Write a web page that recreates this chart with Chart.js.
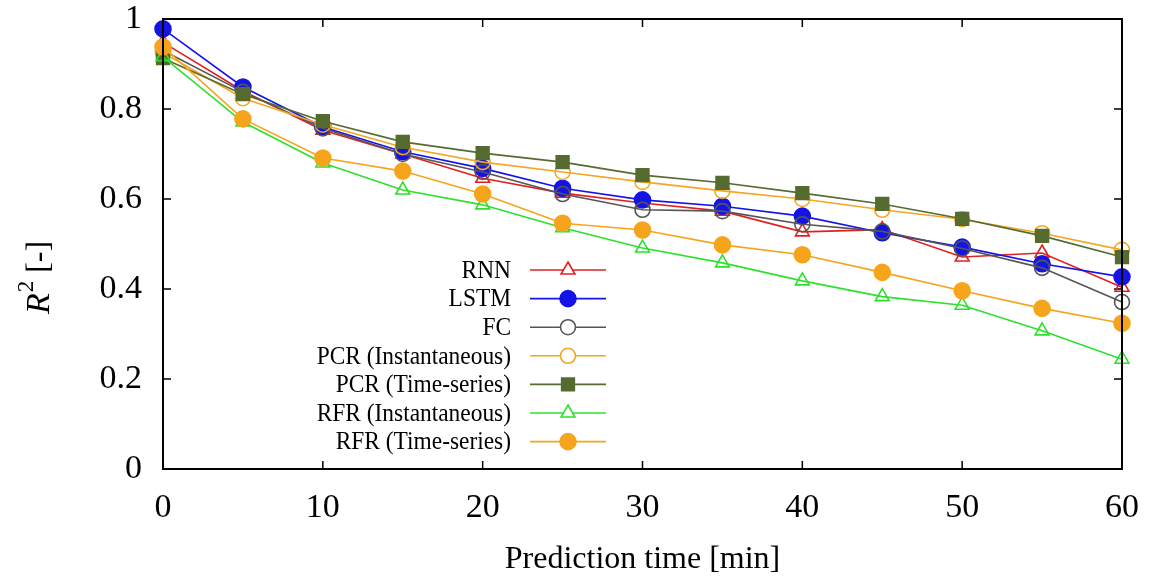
<!DOCTYPE html>
<html>
<head>
<meta charset="utf-8">
<script src="https://cdn.jsdelivr.net/npm/chart.js@4.4.1/dist/chart.umd.min.js"></script>
<style>
  html, body { margin: 0; padding: 0; background: #ffffff; }
  #wrap { width: 1155px; height: 583px; position: relative; }
</style>
</head>
<body>
<div id="wrap"><canvas id="c"></canvas></div>
<script>
// ---- data ----
const predictionTime = [0, 5, 10, 15, 20, 25, 30, 35, 40, 45, 50, 55, 60];
const rnn      = [0.948, 0.840, 0.753, 0.700, 0.646, 0.613, 0.591, 0.573, 0.527, 0.532, 0.471, 0.480, 0.404];
const lstm     = [0.978, 0.849, 0.760, 0.705, 0.668, 0.624, 0.598, 0.584, 0.562, 0.525, 0.493, 0.456, 0.427];
const fc       = [0.930, 0.838, 0.757, 0.700, 0.660, 0.611, 0.576, 0.573, 0.544, 0.528, 0.490, 0.447, 0.371];
const pcrInst  = [0.925, 0.824, 0.765, 0.715, 0.682, 0.660, 0.638, 0.618, 0.600, 0.576, 0.555, 0.524, 0.487];
const pcrTs    = [0.913, 0.833, 0.773, 0.727, 0.702, 0.682, 0.653, 0.636, 0.613, 0.589, 0.556, 0.518, 0.471];
const rfrInst  = [0.916, 0.771, 0.680, 0.620, 0.587, 0.536, 0.491, 0.458, 0.418, 0.383, 0.364, 0.307, 0.244];
const rfrTs    = [0.938, 0.778, 0.691, 0.662, 0.611, 0.546, 0.531, 0.498, 0.476, 0.437, 0.396, 0.357, 0.324];
const seriesNames = ['RNN', 'LSTM', 'FC', 'PCR (Instantaneous)', 'PCR (Time-series)', 'RFR (Instantaneous)', 'RFR (Time-series)'];
const xTickValues = [0, 10, 20, 30, 40, 50, 60];
const yTickValues = [0, 0.2, 0.4, 0.6, 0.8, 1];
const xTitle = 'Prediction time [min]';

const FONT = '"Liberation Serif", "DejaVu Serif", serif';
const toPts = arr => predictionTime.map((t, i) => ({ x: t, y: arr[i] }));

const styles = [
  { c: '#e02020', s: 'triangle', fill: false, r: 8 },
  { c: '#1414e6', s: 'circle',   fill: true,  r: 8 },
  { c: '#555555', s: 'circle',   fill: false, r: 7.5 },
  { c: '#f5a623', s: 'circle',   fill: false, r: 7.5 },
  { c: '#556b2f', s: 'rect',     fill: true,  r: 9 },
  { c: '#2ee02e', s: 'triangle', fill: false, r: 8 },
  { c: '#f5a41c', s: 'circle',   fill: true,  r: 8 }
];
const allVals = [rnn, lstm, fc, pcrInst, pcrTs, rfrInst, rfrTs];

const datasets = allVals.map((v, i) => ({
  label: seriesNames[i],
  data: toPts(v),
  order: allVals.length - i,
  borderColor: styles[i].c,
  backgroundColor: styles[i].fill ? styles[i].c : 'rgba(255,255,255,0)',
  pointBackgroundColor: styles[i].fill ? styles[i].c : 'rgba(255,255,255,0)',
  pointBorderColor: styles[i].c,
  pointStyle: styles[i].s,
  pointRadius: styles[i].r,
  pointBorderWidth: 1.6,
  borderWidth: 1.6,
  tension: 0,
  fill: false,
  clip: false
}));

const framePlugin = {
  id: 'frame',
  beforeDatasetsDraw(chart) {
    const { ctx, chartArea: a, scales } = chart;
    ctx.save();
    ctx.strokeStyle = '#000';
    ctx.lineWidth = 2;
    ctx.strokeRect(a.left, a.top, a.right - a.left, a.bottom - a.top);
    ctx.lineWidth = 1.5;
    const tl = 8;
    xTickValues.forEach(v => {
      const px = scales.x.getPixelForValue(v);
      ctx.beginPath();
      ctx.moveTo(px, a.bottom); ctx.lineTo(px, a.bottom - tl);
      ctx.moveTo(px, a.top); ctx.lineTo(px, a.top + tl);
      ctx.stroke();
    });
    yTickValues.forEach(v => {
      const py = scales.y.getPixelForValue(v);
      ctx.beginPath();
      ctx.moveTo(a.left, py); ctx.lineTo(a.left + tl, py);
      ctx.moveTo(a.right, py); ctx.lineTo(a.right - tl, py);
      ctx.stroke();
    });
    ctx.restore();
  },
  afterDatasetsDraw(chart) {
    const { ctx, chartArea: a } = chart;
    ctx.save();
    ctx.strokeStyle = '#000';
    ctx.lineWidth = 2;
    ctx.beginPath();
    ctx.moveTo(a.left, a.top); ctx.lineTo(a.left, a.bottom); ctx.lineTo(a.right, a.bottom);
    ctx.moveTo(a.right, a.top); ctx.lineTo(a.right, a.bottom);
    ctx.stroke();
    ctx.restore();
  },
  afterDraw(chart) {
    const { ctx } = chart;
    ctx.save();
    // legend (gnuplot style: right-aligned text, sample line on the right)
    const textRight = 511, lineL = 530, lineR = 606, markX = 568;
    const y0 = 270, dy = 28.6;
    const sx = 0.9;
    chart.data.datasets.forEach((ds, i) => {
      const y = y0 + i * dy;
      ctx.save();
      ctx.translate(textRight, y + 1);
      ctx.scale(sx, 1);
      ctx.font = '26px ' + FONT;
      ctx.fillStyle = '#000';
      ctx.textAlign = 'right';
      ctx.textBaseline = 'middle';
      ctx.fillText(ds.label, 0, 0);
      ctx.restore();
      ctx.strokeStyle = ds.borderColor;
      ctx.lineWidth = ds.borderWidth;
      ctx.beginPath(); ctx.moveTo(lineL, y); ctx.lineTo(lineR, y); ctx.stroke();
      ctx.fillStyle = ds.pointBackgroundColor === 'rgba(255,255,255,0)' ? '#ffffff' : ds.pointBackgroundColor;
      ctx.strokeStyle = ds.pointBorderColor;
      ctx.lineWidth = ds.pointBorderWidth;
      Chart.helpers.drawPoint(ctx, { pointStyle: ds.pointStyle, radius: ds.pointRadius, rotation: 0, borderWidth: ds.pointBorderWidth }, markX, y);
    });
    // y-axis title: italic R with superscript 2, then [-]
    ctx.translate(40, 278);
    ctx.rotate(-Math.PI / 2);
    ctx.textAlign = 'left';
    ctx.textBaseline = 'middle';
    ctx.fillStyle = '#000';
    ctx.font = 'italic 34px ' + FONT;
    const wR = ctx.measureText('R').width;
    ctx.font = '23px ' + FONT;
    const w2 = ctx.measureText('2').width;
    ctx.font = '32px ' + FONT;
    const wB = ctx.measureText(' [-]').width;
    const total = wR + w2 + wB;
    let x = -total / 2;
    ctx.font = 'italic 34px ' + FONT;
    ctx.fillText('R', x, 0); x += wR + 1;
    ctx.font = '23px ' + FONT;
    ctx.fillText('2', x, -13); x += w2;
    ctx.font = '32px ' + FONT;
    ctx.fillText(' [-]', x, 0);
    ctx.restore();
  }
};

new Chart(document.getElementById('c'), {
  type: 'line',
  data: { datasets },
  options: {
    responsive: true,
    maintainAspectRatio: false,
    animation: false,
    layout: { padding: { left: 0, top: 19, right: 33, bottom: 0 } },
    plugins: { legend: { display: false }, tooltip: { enabled: false }, title: { display: false } },
    scales: {
      x: {
        type: 'linear', min: 0, max: 60,
        afterBuildTicks: s => { s.ticks = xTickValues.map(v => ({ value: v })); },
        afterFit: s => { s.height = 114; s.paddingLeft = 0; s.paddingRight = 0; },
        grid: { display: false, drawTicks: false },
        border: { display: false },
        ticks: { color: '#000', font: { family: FONT, size: 34 }, padding: 19, maxRotation: 0, autoSkip: false },
        title: { display: true, text: xTitle, color: '#000', font: { family: FONT, size: 32 }, padding: { top: 16 } }
      },
      y: {
        type: 'linear', min: 0, max: 1,
        afterBuildTicks: s => { s.ticks = yTickValues.map(v => ({ value: v })); },
        afterFit: s => { s.width = 163; s.paddingTop = 0; s.paddingBottom = 0; },
        grid: { display: false, drawTicks: false },
        border: { display: false },
        ticks: { color: '#000', font: { family: FONT, size: 34 }, padding: 21, callback: v => String(v) }
      }
    }
  },
  plugins: [framePlugin]
});
</script>
</body>
</html>
